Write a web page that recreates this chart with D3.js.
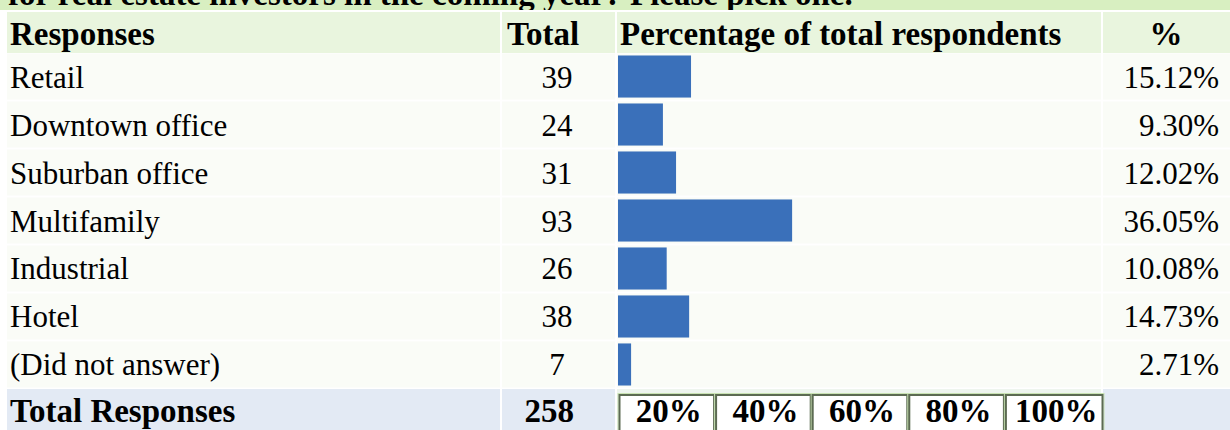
<!DOCTYPE html>
<html><head><meta charset="utf-8">
<script src="https://cdn.jsdelivr.net/npm/d3@7"></script>
<style>html,body{margin:0;padding:0;background:#fff;}svg{display:block;}</style>
</head><body><svg id="c" width="1230" height="430"></svg>
<script>
const titleText = "for real estate investors in the coming year? Please pick one.";
const headers = ["Responses", "Total", "Percentage of total respondents", "%"];
const categories = ["Retail", "Downtown office", "Suburban office", "Multifamily", "Industrial", "Hotel", "(Did not answer)"];
const totals = [39, 24, 31, 93, 26, 38, 7];
const percents = [15.12, 9.30, 12.02, 36.05, 10.08, 14.73, 2.71];
const totalLabel = "Total Responses";
const totalCount = 258;
const tickValues = [20, 40, 60, 80, 100];

const svg = d3.select("#c");
const font = "'Liberation Serif','Times New Roman',serif";
const REG = 31, BOLD = 33;
const W = 1230, H = 430;
const cols = [{x0: 7, x1: 500}, {x0: 502, x1: 615}, {x0: 617, x1: 1101}, {x0: 1103, x1: 1230}];

svg.append("rect").attr("width", W).attr("height", H).attr("fill", "#ffffff");
svg.append("rect").attr("x", 0).attr("y", 0).attr("width", W).attr("height", 10).attr("fill", "#d8efc1");
svg.append("text").attr("x", 8).attr("y", 5).attr("font-family", font).attr("font-weight", "bold")
  .attr("font-size", BOLD).attr("fill", "#000").text(titleText);
svg.append("rect").attr("x", 0).attr("y", 10).attr("width", W).attr("height", 2).attr("fill", "#ffffff");

const y = d3.scaleBand().domain(categories).range([53, 388]).paddingInner(0.04).paddingOuter(0.01);
const x = d3.scaleLinear().domain([0, 100]).range([618, 1101]);
const headerY = {y0: 12, y1: 53};
const totalY = {y0: 389, y1: 432};

cols.forEach(c => {
  svg.append("rect").attr("x", c.x0).attr("y", headerY.y0).attr("width", c.x1 - c.x0).attr("height", headerY.y1 - headerY.y0)
    .attr("fill", "#e9f5de");
});
categories.forEach(cat => {
  cols.forEach(c => {
    svg.append("rect").attr("x", c.x0).attr("y", y(cat)).attr("width", c.x1 - c.x0).attr("height", y.bandwidth())
      .attr("fill", "#fafcf7");
  });
});
cols.forEach((c, i) => {
  svg.append("rect").attr("x", c.x0).attr("y", totalY.y0).attr("width", c.x1 - c.x0).attr("height", totalY.y1 - totalY.y0)
    .attr("fill", i === 2 ? "#eef5ee" : "#e3eaf4");
});

const hg = svg.append("g").attr("font-family", font).attr("font-weight", "bold").attr("font-size", BOLD).attr("fill", "#000");
const hBase = 45;
hg.append("text").attr("x", 10).attr("y", hBase).text(headers[0]);
hg.append("text").attr("x", 507).attr("y", hBase).text(headers[1]);
hg.append("text").attr("x", 620).attr("y", hBase).text(headers[2]);
hg.append("text").attr("x", 1166).attr("y", hBase).attr("text-anchor", "middle").text(headers[3]);

const g = svg.append("g").attr("font-family", font).attr("font-size", REG).attr("fill", "#000");
const rows = g.selectAll("g.row").data(categories).join("g").attr("class", "row");
const base = d => y(d) + y.bandwidth() / 2 + 11;
rows.append("text").attr("x", 10).attr("y", base).text(d => d);
rows.append("text").attr("x", 557).attr("text-anchor", "middle").attr("y", base).text((d, i) => totals[i]);
rows.append("text").attr("x", 1219).attr("text-anchor", "end").attr("y", base).text((d, i) => percents[i].toFixed(2) + "%");
rows.append("rect").attr("x", x(0)).attr("y", d => y(d) + 2).attr("height", y.bandwidth() - 4)
  .attr("width", (d, i) => x(percents[i]) - x(0)).attr("fill", "#3a70ba");

const tg = svg.append("g").attr("font-family", font).attr("font-size", BOLD).attr("font-weight", "bold");
tg.append("text").attr("x", 10).attr("y", 422).text(totalLabel);
tg.append("text").attr("x", 574).attr("text-anchor", "end").attr("y", 422).text(totalCount);

const edges = [0].concat(tickValues);
const ag = svg.append("g");
tickValues.forEach((t, i) => {
  const a = x(edges[i]) + 1, b = x(t) + (i === tickValues.length - 1 ? 2 : 0);
  ag.append("rect").attr("x", a - 1).attr("y", 393.5).attr("width", b - a + 2).attr("height", 45)
    .attr("fill", "none").attr("stroke", "#c9e3b3").attr("stroke-width", 1);
  ag.append("rect").attr("x", a + 0.5).attr("y", 395).attr("width", b - a - 1).attr("height", 45)
    .attr("fill", "#ffffff").attr("stroke", "#5c6b52").attr("stroke-width", 2);
  ag.append("text").attr("x", (a + b) / 2 + 2).attr("y", 422).attr("text-anchor", "middle")
    .attr("font-family", font).attr("font-size", BOLD).attr("font-weight", "bold").text(t + "%");
});
</script></body></html>
